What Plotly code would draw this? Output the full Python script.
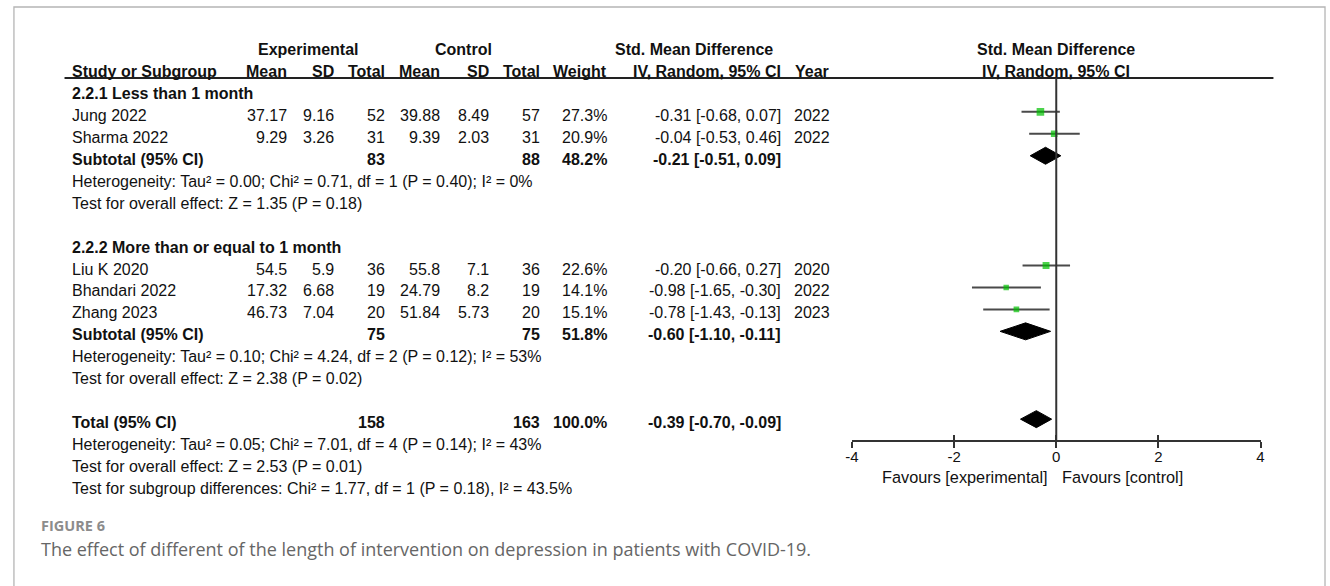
import plotly.graph_objects as go

# ---------------- data ----------------
studies = ["Jung 2022", "Sharma 2022", "Liu K 2020", "Bhandari 2022", "Zhang 2023"]
study_group = [0, 0, 1, 1, 1]
exp_mean = [37.17, 9.29, 54.5, 17.32, 46.73]
exp_sd = [9.16, 3.26, 5.9, 6.68, 7.04]
exp_n = [52, 31, 36, 19, 20]
ctl_mean = [39.88, 9.39, 55.8, 24.79, 51.84]
ctl_sd = [8.49, 2.03, 7.1, 8.2, 5.73]
ctl_n = [57, 31, 36, 19, 20]
weight = [27.3, 20.9, 22.6, 14.1, 15.1]
smd = [-0.31, -0.04, -0.20, -0.98, -0.78]
ci_lo = [-0.68, -0.53, -0.66, -1.65, -1.43]
ci_hi = [0.07, 0.46, 0.27, -0.30, -0.13]
year = [2022, 2022, 2020, 2022, 2023]

group_titles = ["2.2.1 Less than 1 month", "2.2.2 More than or equal to 1 month"]
sub_exp_n = [83, 75]
sub_ctl_n = [88, 75]
sub_weight = [48.2, 51.8]
sub_smd = [-0.21, -0.60]
sub_lo = [-0.51, -1.10]
sub_hi = [0.09, -0.11]
sub_het = [
    "Heterogeneity: Tau² = 0.00; Chi² = 0.71, df = 1 (P = 0.40); I² = 0%",
    "Heterogeneity: Tau² = 0.10; Chi² = 4.24, df = 2 (P = 0.12); I² = 53%",
]
sub_test = [
    "Test for overall effect: Z = 1.35 (P = 0.18)",
    "Test for overall effect: Z = 2.38 (P = 0.02)",
]

tot_exp_n = 158
tot_ctl_n = 163
tot_weight = 100.0
tot_smd = -0.39
tot_lo = -0.70
tot_hi = -0.09
tot_lines = [
    "Heterogeneity: Tau² = 0.05; Chi² = 7.01, df = 4 (P = 0.14); I² = 43%",
    "Test for overall effect: Z = 2.53 (P = 0.01)",
    "Test for subgroup differences: Chi² = 1.77, df = 1 (P = 0.18), I² = 43.5%",
]

x_ticks = [-4, -2, 0, 2, 4]
fav_left = "Favours [experimental]"
fav_right = "Favours [control]"
fig_label = "FIGURE 6"
caption = "The effect of different of the length of intervention on depression in patients with COVID-19."

# ---------------- layout constants ----------------
W, H = 1330, 586
ROW0, ROW_H = 49.5, 21.95
MARK_OFF = -3.5
AX_Y = 441
HDR_LINE_Y = 78
FONT = "Liberation Sans, Arial, sans-serif"
FS = 16
TXT = "#111111"
GREEN = "#00c000"
CI_COL = "#4a4a4a"
DX = {"left": -6, "right": -4, "center": -4}

COL = dict(study=72, emean=286, esd=334, en=385, cmean=441, csd=490, cn=541,
           wt=609, ci=784, year=800)


def ry(i):
    return ROW0 + ROW_H * i


annotations = []


def ann(x, xref, y, s, align, size, color, family=FONT, bold=False):
    annotations.append(dict(
        x=x, xref=xref, y=y, yref="y",
        text=("<b>%s</b>" % s) if bold else s,
        showarrow=False, xanchor=align, yanchor="middle", align=align,
        borderpad=0, borderwidth=0,
        font=dict(family=family, size=size, color=color),
    ))


def pann(px, y, s, align, size, color, family=FONT, bold=False):
    ann((px + DX[align]) / W, "paper", y, s, align, size, color, family, bold)


def txt(x, i, s, align="right", bold=False, size=FS, color=TXT):
    pann(x, ry(i), s, align, size, color, bold=bold)


def ci_text(e, lo, hi):
    return "%.2f [%.2f, %.2f]" % (e, lo, hi)


# headers
txt(308, 0, "Experimental", "center", True)
txt(464, 0, "Control", "center", True)
txt(697, 0, "Std. Mean Difference", "center", True)
txt(COL["study"], 1, "Study or Subgroup", "left", True)
for k, lab in [("emean", "Mean"), ("esd", "SD"), ("en", "Total"), ("cmean", "Mean"),
               ("csd", "SD"), ("cn", "Total"), ("wt", "Weight"), ("ci", "IV, Random, 95% CI")]:
    txt(COL[k], 1, lab, "right", True)
txt(COL["year"] + 1, 1, "Year", "left", True)
for i, lab in [(0, "Std. Mean Difference"), (1, "IV, Random, 95% CI")]:
    ann(0, "x", ry(i), lab, "center", FS, TXT, bold=True)

# build row indices
study_rows = []
sub_rows = []
row = 2
for g in range(2):
    txt(COL["study"], row, group_titles[g], "left", True)
    row += 1
    for s in range(len(studies)):
        if study_group[s] != g:
            continue
        study_rows.append(row)
        txt(COL["study"], row, studies[s], "left")
        txt(COL["emean"], row, str(exp_mean[s]))
        txt(COL["esd"], row, str(exp_sd[s]))
        txt(COL["en"], row, str(exp_n[s]))
        txt(COL["cmean"], row, str(ctl_mean[s]))
        txt(COL["csd"], row, str(ctl_sd[s]))
        txt(COL["cn"], row, str(ctl_n[s]))
        txt(COL["wt"], row, "%.1f%%" % weight[s])
        txt(COL["ci"], row, ci_text(smd[s], ci_lo[s], ci_hi[s]))
        txt(COL["year"], row, str(year[s]), "left")
        row += 1
    sub_rows.append(row)
    txt(COL["study"], row, "Subtotal (95% CI)", "left", True)
    txt(COL["en"], row, str(sub_exp_n[g]), bold=True)
    txt(COL["cn"], row, str(sub_ctl_n[g]), bold=True)
    txt(COL["wt"], row, "%.1f%%" % sub_weight[g], bold=True)
    txt(COL["ci"], row, ci_text(sub_smd[g], sub_lo[g], sub_hi[g]), bold=True)
    row += 1
    txt(COL["study"], row, sub_het[g], "left")
    row += 1
    txt(COL["study"], row, sub_test[g], "left")
    row += 2

tot_row = row
txt(COL["study"], row, "Total (95% CI)", "left", True)
txt(COL["en"], row, str(tot_exp_n), bold=True)
txt(COL["cn"], row, str(tot_ctl_n), bold=True)
txt(COL["wt"], row, "%.1f%%" % tot_weight, bold=True)
txt(COL["ci"], row, ci_text(tot_smd, tot_lo, tot_hi), bold=True)
for line in tot_lines:
    row += 1
    txt(COL["study"], row, line, "left")

# favours labels
pann(1054, 477, fav_left, "right", 16.3, TXT)
pann(1070, 477, fav_right, "left", 16.3, TXT)
# caption
pann(40, 525, fig_label, "left", 14.5, "#8c8c8c", family="Open Sans, Lato, sans-serif", bold=True)
pann(40, 549, caption, "left", 18, "#666666", family="Open Sans, Lato, sans-serif")

# ---------------- traces ----------------
fig = go.Figure()

# CI lines for studies
for s, r in enumerate(study_rows):
    yc = ry(r) + MARK_OFF
    fig.add_trace(go.Scatter(x=[ci_lo[s], ci_hi[s]], y=[yc, yc], mode="lines",
                             line=dict(color=CI_COL, width=2), hoverinfo="skip", showlegend=False))

# study squares
fig.add_trace(go.Scatter(
    x=smd, y=[ry(r) + MARK_OFF for r in study_rows], mode="markers",
    marker=dict(symbol="square", color=GREEN, size=[1.45 * w ** 0.5 for w in weight],
                line=dict(width=0)),
    hoverinfo="skip", showlegend=False))

# diamonds
DH = 8.5
dia = [(sub_smd[g], sub_lo[g], sub_hi[g], ry(sub_rows[g]) + MARK_OFF) for g in range(2)]
dia.append((tot_smd, tot_lo, tot_hi, ry(tot_row) + MARK_OFF))
for e, lo, hi, yc in dia:
    fig.add_trace(go.Scatter(x=[lo, e, hi, e, lo], y=[yc, yc - DH, yc, yc + DH, yc],
                             mode="lines", fill="toself", fillcolor="#000000",
                             line=dict(color="#000000", width=1), hoverinfo="skip",
                             showlegend=False))

# helper trace for overlay axis
fig.add_trace(go.Scatter(x=[0], y=[AX_Y], xaxis="x2", mode="markers",
                         marker=dict(opacity=0), hoverinfo="skip", showlegend=False))

dom = [852 / W, 1264 / W]
axpos = 1 - AX_Y / H

shapes = [
    # frame
    dict(type="rect", xref="paper", yref="paper", x0=7 / W, x1=1329 / W, y0=-0.05, y1=1 - 7 / H,
         line=dict(color="#b5b5b5", width=1.3), fillcolor="rgba(0,0,0,0)", layer="below"),
    # header underline
    dict(type="line", xref="paper", yref="y", x0=58 / W, x1=1277 / W, y0=HDR_LINE_Y, y1=HDR_LINE_Y,
         line=dict(color="#222222", width=2)),
    # zero line
    dict(type="line", xref="x", yref="y", x0=0, x1=0, y0=HDR_LINE_Y, y1=AX_Y,
         line=dict(color="#333333", width=2)),
]

fig.update_layout(
    width=W, height=H, margin=dict(l=0, r=0, t=0, b=0),
    paper_bgcolor="white", plot_bgcolor="rgba(0,0,0,0)",
    showlegend=False,
    xaxis=dict(domain=dom, range=[-4, 4], anchor="free", position=axpos,
               showline=True, linecolor="#333333", linewidth=1.6,
               ticks="outside", ticklen=6, tickwidth=1.6, tickcolor="#333333",
               tickvals=x_ticks, ticktext=[str(t) for t in x_ticks],
               tickfont=dict(family=FONT, size=15, color=TXT), ticklabelstandoff=-4,
               showgrid=False, zeroline=False, fixedrange=True),
    xaxis2=dict(domain=dom, range=[-4, 4], anchor="free", position=axpos, overlaying="x",
                showline=False, ticks="inside", ticklen=6, tickwidth=1.6, tickcolor="#333333",
                tickvals=x_ticks, showticklabels=False, showgrid=False, zeroline=False,
                fixedrange=True),
    yaxis=dict(domain=[0, 1], range=[H, 0], visible=False, fixedrange=True),
    annotations=annotations,
    shapes=shapes,
)

fig.write_html("out.html", config={"displayModeBar": False},
               post_script="document.body.style.margin='0';")
